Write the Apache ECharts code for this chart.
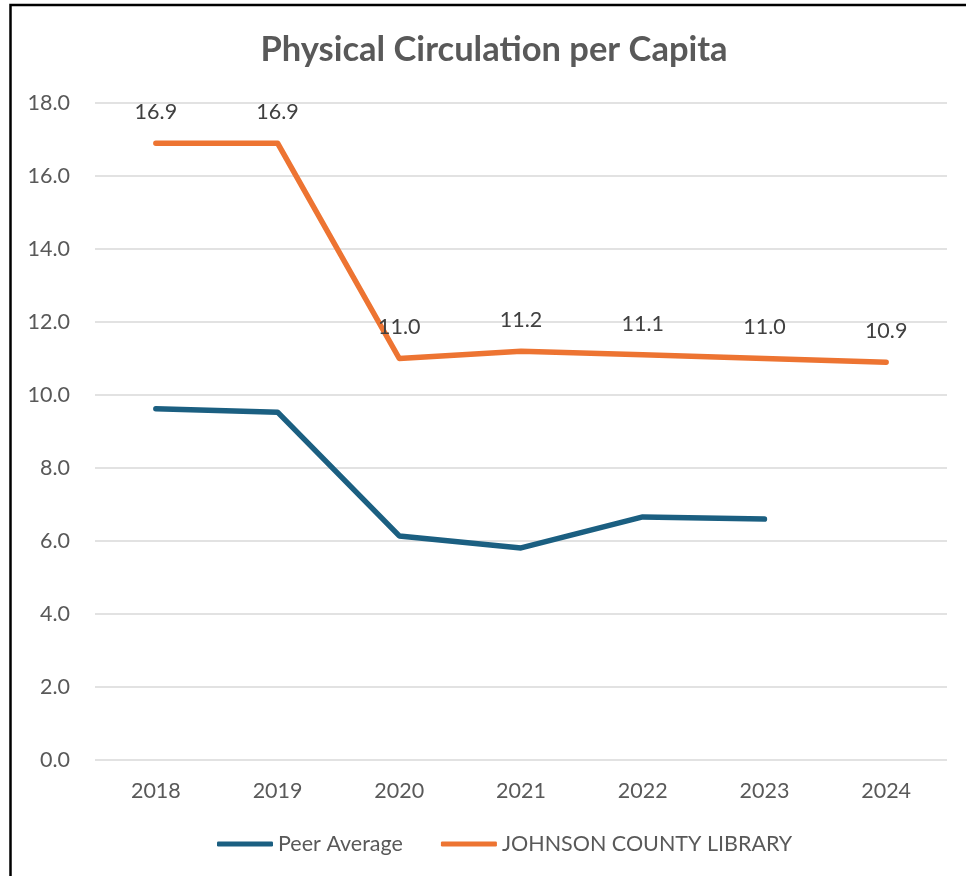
<!DOCTYPE html>
<html>
<head>
<meta charset="utf-8">
<title>Physical Circulation per Capita</title>
<script src="https://cdn.jsdelivr.net/npm/echarts@6/dist/echarts.min.js"></script>
<style>
  html, body { margin: 0; padding: 0; background: #ffffff; }
  #chart { width: 966px; height: 876px; }
</style>
</head>
<body>
<div id="chart"></div>
<script>
// Physical circulation per capita by year
const years = ['2018', '2019', '2020', '2021', '2022', '2023', '2024'];
const peerAverage = [9.62, 9.53, 6.14, 5.81, 6.66, 6.60, null];
const johnsonCounty = [16.9, 16.9, 11.0, 11.2, 11.1, 11.0, 10.9];
const seriesNames = ['Peer Average', 'JOHNSON COUNTY LIBRARY'];
const chartTitle = 'Physical Circulation per Capita';

const FONT = 'Lato, "Open Sans", sans-serif';
const chart = echarts.init(document.getElementById('chart'), null, { renderer: 'canvas' });

chart.setOption({
  backgroundColor: '#ffffff',
  animation: false,
  title: {
    text: chartTitle,
    left: 489,
    top: 27,
    textAlign: 'center',
    textStyle: { fontFamily: FONT, fontSize: 34.5, fontWeight: 'bold', color: '#595959' }
  },
  grid: { left: 95, right: 19, top: 103, bottom: 116, containLabel: false },
  legend: {
    data: seriesNames,
    bottom: 21,
    left: 217,
    padding: 0,
    icon: 'roundRect',
    itemWidth: 56,
    itemHeight: 5,
    itemGap: 38,
    textStyle: { fontFamily: FONT, fontSize: 21.5, color: '#595959' }
  },
  xAxis: {
    type: 'category',
    data: years,
    boundaryGap: true,
    axisLine: { show: false },
    axisTick: { show: false },
    axisLabel: { fontFamily: FONT, fontSize: 21.5, color: '#595959', margin: 20 }
  },
  yAxis: {
    type: 'value',
    min: 0,
    max: 18,
    interval: 2,
    axisLine: { show: false },
    axisTick: { show: false },
    splitLine: { lineStyle: { color: '#d9d9d9', width: 1.5 } },
    axisLabel: {
      fontFamily: FONT, fontSize: 21.5, color: '#595959', margin: 25,
      formatter: v => v.toFixed(1)
    }
  },
  series: [
    {
      name: seriesNames[0],
      type: 'line',
      data: peerAverage,
      color: '#1b5f81',
      symbol: 'none',
      lineStyle: { width: 5.5, cap: 'round', join: 'round' }
    },
    {
      name: seriesNames[1],
      type: 'line',
      data: johnsonCounty,
      color: '#ed7432',
      symbol: 'circle',
      symbolSize: 0.1,
      showSymbol: true,
      lineStyle: { width: 5.5, cap: 'round', join: 'round' },
      label: {
        show: true,
        position: 'top',
        distance: 20,
        fontFamily: FONT,
        fontSize: 21.5,
        color: '#404040',
        formatter: p => p.value.toFixed(1)
      },
      z: 3
    }
  ],
  graphic: [
    {
      type: 'polyline',
      silent: true,
      shape: { points: [[10.5, 876], [10.5, 5], [966, 5]] },
      style: { stroke: '#000000', lineWidth: 2.5, fill: null }
    }
  ]
});
</script>
</body>
</html>
